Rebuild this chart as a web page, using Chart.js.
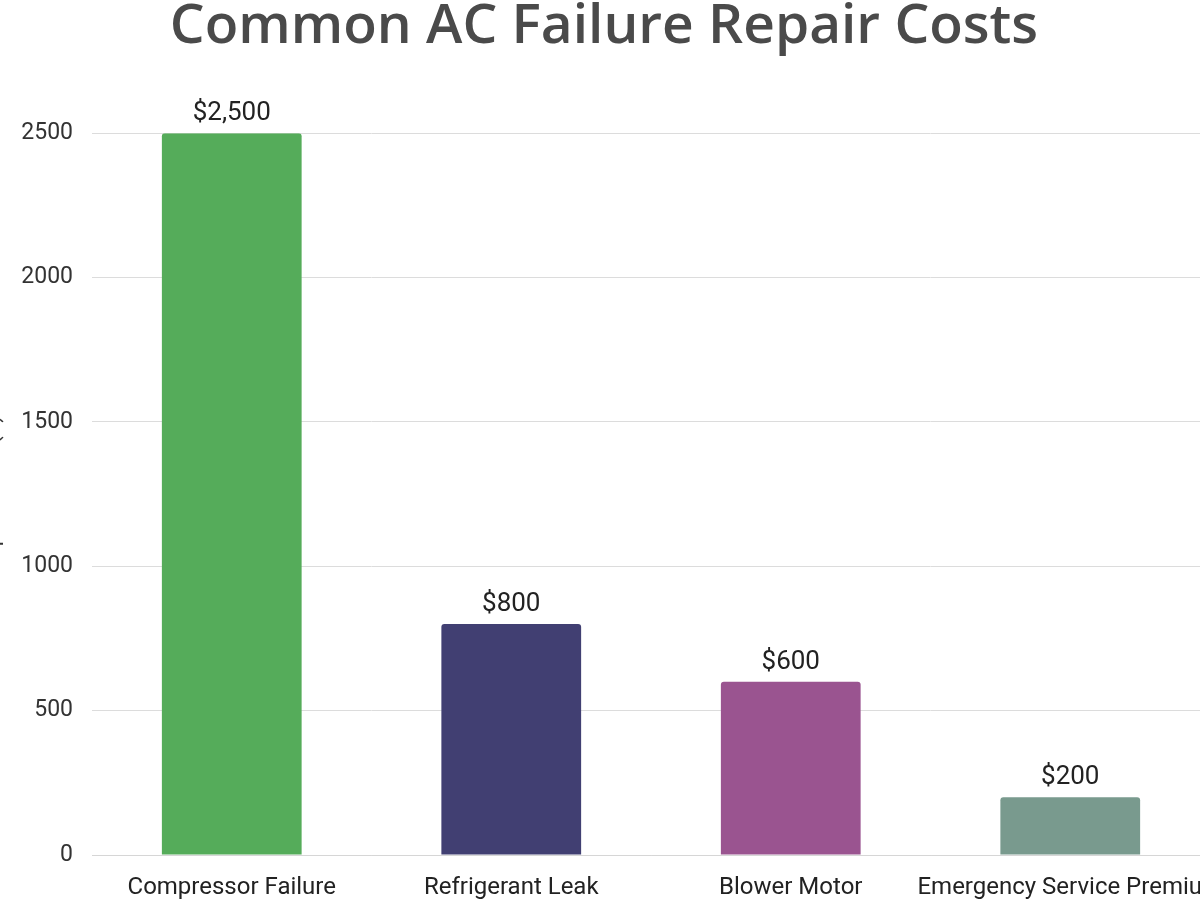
<!DOCTYPE html>
<html>
<head>
<meta charset="utf-8">
<title>Common AC Failure Repair Costs</title>
<script src="https://cdn.jsdelivr.net/npm/chart.js@4.4.1/dist/chart.umd.min.js"></script>
<style>
  html, body { margin: 0; padding: 0; background: #fff; overflow: hidden; }
  body { width: 1200px; height: 900px; position: relative; }
  #wrap { position: absolute; left: -40px; top: 0; width: 1290px; height: 915px; }
</style>
</head>
<body>
<div id="wrap"><canvas id="costChart"></canvas></div>
<script>
'use strict';

/* ── datos ── */
var categories = ['Compressor Failure', 'Refrigerant Leak', 'Blower Motor', 'Emergency Service Premium'];
var costs      = [2500, 800, 600, 200];
var barColors  = ['#55ac5a', '#413f72', '#9a5490', '#799a8e'];
var yTicks     = [0, 500, 1000, 1500, 2000, 2500];

/* etiquetas $ encima de cada barra */
var valueLabels = {
  id: 'valueLabels',
  afterDatasetsDraw: function(chart) {
    var ctx = chart.ctx;
    var meta = chart.getDatasetMeta(0);
    ctx.save();
    ctx.font = '26px Roboto';
    ctx.fillStyle = '#222';
    ctx.textAlign = 'center';
    ctx.textBaseline = 'alphabetic';
    meta.data.forEach(function(bar, i) {
      ctx.fillText('$' + costs[i].toLocaleString('en-US'), bar.x, bar.y - 13);
    });
    ctx.restore();
  }
};

new Chart(document.getElementById('costChart'), {
  type: 'bar',
  data: {
    labels: categories,
    datasets: [{
      data: costs,
      backgroundColor: barColors,
      borderWidth: 0,
      borderRadius: { topLeft: 3, topRight: 3 },
      borderSkipped: 'bottom',
      categoryPercentage: 1,
      barPercentage: 0.5
    }]
  },
  options: {
    responsive: true,
    maintainAspectRatio: false,
    animation: false,
    layout: { padding: { left: 38, right: 40, top: 0, bottom: 0 } },
    plugins: {
      legend: { display: false },
      tooltip: { enabled: false },
      title: {
        display: true,
        text: 'Common AC Failure Repair Costs',
        color: '#4a4a4a',
        font: { family: 'Open Sans', size: 55, weight: '600', lineHeight: 0.86 },
        padding: { top: 4, bottom: 82 }
      }
    },
    scales: {
      x: {
        grid: { display: false, drawTicks: false },
        border: { display: true, color: '#d6d6d6', width: 1 },
        ticks: {
          color: '#222',
          font: { family: 'Roboto', size: 24 },
          padding: 19,
          maxRotation: 0,
          minRotation: 0,
          autoSkip: false
        },
        afterFit: function(scale) { scale.height = 60; }
      },
      y: {
        min: 0,
        max: 2500,
        afterBuildTicks: function(scale) {
          scale.ticks = yTicks.map(function(v) { return { value: v }; });
        },
        grid: { color: '#dcdcdc', lineWidth: 1, drawTicks: false },
        border: { display: false },
        ticks: {
          color: '#333',
          font: { family: 'Roboto', size: 23 },
          padding: 19,
          callback: function(v) { return String(v); }
        },
        title: {
          display: true,
          text: 'Repair Cost ($)',
          color: '#333',
          font: { family: 'Roboto', size: 24 },
          padding: { top: -20, bottom: 0 }
        },
        afterFit: function(scale) { scale.width = 94; }
      }
    }
  },
  plugins: [valueLabels]
});
</script>
</body>
</html>
